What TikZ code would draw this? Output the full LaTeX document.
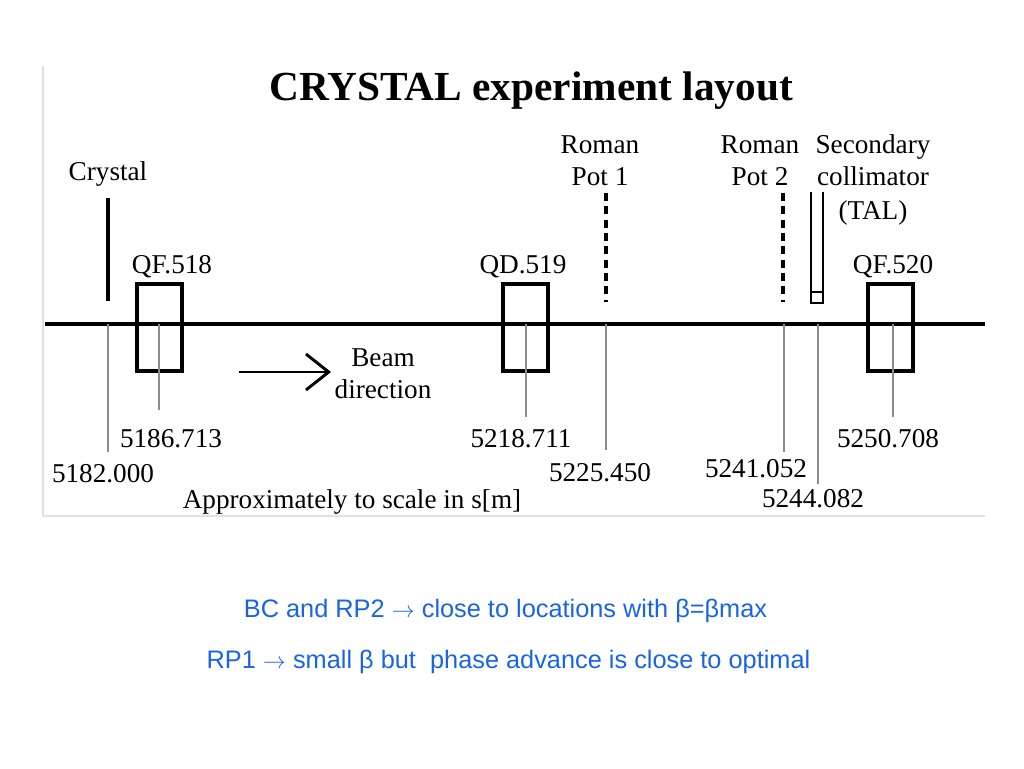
\documentclass[tikz,border=0pt]{standalone}
\usepackage{fontspec}
\setmainfont{Liberation Serif}
\newfontfamily\blsans{Liberation Sans}
\usetikzlibrary{arrows.meta}
\definecolor{noteblue}{RGB}{25,100,230}
\definecolor{frame}{RGB}{225,225,225}
\tikzset{
  beam/.style={line width=2.3pt, black},
  magnet/.style={line width=2.3pt, black},
  tick/.style={line width=0.8pt, black!45},
  pot/.style={line width=2.4pt, dash pattern=on 6pt off 4pt},
  lab/.style={font=\fontsize{20.4}{24}\selectfont, inner sep=0pt, anchor=base},
  note/.style={font=\blsans\fontsize{19}{23}\selectfont, text=noteblue, inner sep=0pt, anchor=base},
}
\begin{document}
\begin{tikzpicture}[x=0.75pt,y=-0.75pt]
\useasboundingbox (0,0) rectangle (1024,768);
% faint frame
\draw[frame, line width=1pt] (43,66) -- (43,516) -- (985,516);
% title
\node[font=\fontsize{31}{36}\selectfont\bfseries, inner sep=0pt, anchor=base] (title) at (531,100) {CRYSTAL experiment layout};
% beam line
\coordinate (bl) at (45,324);
\coordinate (br) at (985,324);
\draw[beam] (bl) -- (br);
% crystal
\coordinate (crt) at (108,198);
\coordinate (crb) at (108,301);
\draw[magnet] (crt) -- (crb);
\node[lab] (crystal) at (108,180) {Crystal};
\coordinate (s1) at (108,324);
\coordinate (s1e) at (108,452);
\draw[tick] (s1) -- (s1e);
\node[lab] (v1) at (103,482) {5182.000};
% QF.518
\node[magnet, draw, minimum width=45*0.75pt, minimum height=87*0.75pt, inner sep=0pt] (qf518) at (159.5,327.5) {};
\node[lab] (qf518l) at (172,273) {QF.518};
\coordinate (s2) at (159,324);
\coordinate (s2e) at (159,410);
\draw[tick] (s2) -- (s2e);
\node[lab] (v2) at (171,447) {5186.713};
% beam direction
\coordinate (ba) at (239,372);
\coordinate (bb) at (331,372);
\draw[line width=2.2pt, -{Straight Barb[length=17pt,width=27pt,line width=2.2pt]}] (ba) -- (bb);
\node[lab] (beamt) at (383,366) {Beam};
\node[lab] (beamd) at (383,398) {direction};
% QD.519
\node[magnet, draw, minimum width=45*0.75pt, minimum height=87*0.75pt, inner sep=0pt] (qd519) at (525.5,327.5) {};
\node[lab] (qd519l) at (523,273) {QD.519};
\coordinate (s3) at (526,324);
\coordinate (s3e) at (526,417);
\draw[tick] (s3) -- (s3e);
\node[lab] (v3) at (521,447) {5218.711};
% Roman Pot 1
\node[lab] (rp1a) at (600,153) {Roman};
\node[lab] (rp1b) at (600,185) {Pot 1};
\coordinate (p1t) at (606,193);
\coordinate (p1b) at (606,302);
\draw[pot] (p1t) -- (p1b);
\coordinate (s4) at (606,324);
\coordinate (s4e) at (606,450);
\draw[tick] (s4) -- (s4e);
\node[lab] (v4) at (600,481) {5225.450};
% Roman Pot 2
\node[lab] (rp2a) at (760,153) {Roman};
\node[lab] (rp2b) at (760,185) {Pot 2};
\coordinate (p2t) at (783,193);
\coordinate (p2b) at (783,302);
\draw[pot] (p2t) -- (p2b);
\coordinate (s5) at (784,324);
\coordinate (s5e) at (784,452);
\draw[tick] (s5) -- (s5e);
\node[lab] (v5) at (756,477) {5241.052};
% Secondary collimator
\node[lab] (tala) at (873,153) {Secondary};
\node[lab] (talb) at (873,185) {collimator};
\node[lab] (talc) at (873,219) {(TAL)};
\coordinate (c1) at (811,192);
\coordinate (c2) at (811,303);
\coordinate (c3) at (823,303);
\coordinate (c4) at (823,192);
\coordinate (c5) at (811,292);
\coordinate (c6) at (823,292);
\draw[line width=2pt] (c1) -- (c2) -- (c3) -- (c4);
\draw[line width=2pt] (c5) -- (c6);
\coordinate (s6) at (818,324);
\coordinate (s6e) at (818,484);
\draw[tick] (s6) -- (s6e);
\node[lab] (v6) at (813,507) {5244.082};
% QF.520
\node[magnet, draw, minimum width=45*0.75pt, minimum height=87*0.75pt, inner sep=0pt] (qf520) at (890.5,327.5) {};
\node[lab] (qf520l) at (893,273) {QF.520};
\coordinate (s7) at (893,324);
\coordinate (s7e) at (893,417);
\draw[tick] (s7) -- (s7e);
\node[lab] (v7) at (888,447) {5250.708};
% scale note
\node[lab] (scale) at (352,508) {Approximately to scale in s[m]};
% blue notes
\node[note] (n1) at (505.5,617) {BC and RP2 $\rightarrow$ close to locations with β=βmax};
\node[note] (n2) at (508.5,668) {RP1 $\rightarrow$ small β but\ \ phase advance is close to optimal};
\end{tikzpicture}
\end{document}
